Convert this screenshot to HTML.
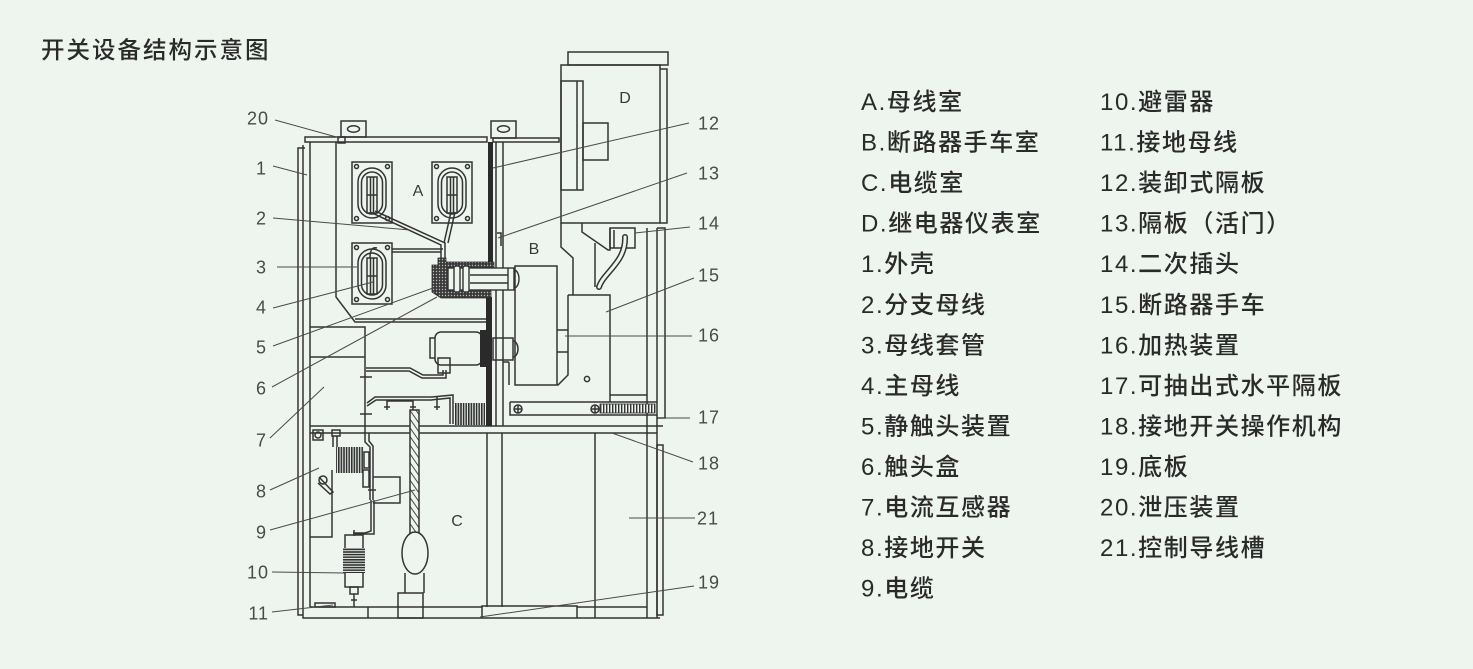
<!DOCTYPE html>
<html><head><meta charset="utf-8"><style>
html,body{margin:0;padding:0;background:#eef5ee;}
svg{display:block;}
.t{font-family:"Liberation Sans","Noto Sans CJK SC",sans-serif;fill:#2a2a2a;font-weight:500;}
.n{font-family:"Liberation Sans",sans-serif;fill:#4a4a4a;font-size:18px;letter-spacing:1px;}
.L{font-family:"Liberation Sans",sans-serif;fill:#3a3a3a;font-size:16px;}
</style></head><body>
<svg width="1473" height="669" viewBox="0 0 1473 669" xmlns="http://www.w3.org/2000/svg">
<defs>
<pattern id="dots" width="3" height="3" patternUnits="userSpaceOnUse">
<rect width="3" height="3" fill="#3a3a3a"/><circle cx="1.5" cy="1.5" r="0.7" fill="#bbb"/>
</pattern>
<pattern id="hatch" width="5" height="5" patternUnits="userSpaceOnUse" patternTransform="rotate(-35)">
<rect width="5" height="5" fill="#eef5ee"/><line x1="0" y1="0" x2="0" y2="5" stroke="#333" stroke-width="1.8"/>
</pattern>
<pattern id="vfin" width="2.6" height="4" patternUnits="userSpaceOnUse">
<rect width="2.6" height="4" fill="#eef5ee"/><rect width="1.6" height="4" fill="#2f2f2f"/>
</pattern>
<pattern id="hfin" width="4" height="2.6" patternUnits="userSpaceOnUse">
<rect width="4" height="2.6" fill="#eef5ee"/><rect width="4" height="1.6" fill="#2f2f2f"/>
</pattern>
<pattern id="spring" width="3" height="10" patternUnits="userSpaceOnUse">
<rect width="3" height="10" fill="#eef5ee"/><rect width="1.4" height="10" fill="#333"/>
</pattern>
</defs>
<rect width="1473" height="669" fill="#eef5ee"/>

<!-- Title -->
<text class="t" x="41" y="58" font-size="23.5" letter-spacing="2">开关设备结构示意图</text>

<!-- Legend left column -->
<g class="t" font-size="24" letter-spacing="1.6">
<text x="861" y="110">A.母线室</text>
<text x="861" y="150.5">B.断路器手车室</text>
<text x="861" y="191">C.电缆室</text>
<text x="861" y="231.7">D.继电器仪表室</text>
<text x="861" y="272.2">1.外壳</text>
<text x="861" y="312.8">2.分支母线</text>
<text x="861" y="353.3">3.母线套管</text>
<text x="861" y="393.9">4.主母线</text>
<text x="861" y="434.4">5.静触头装置</text>
<text x="861" y="475">6.触头盒</text>
<text x="861" y="515.5">7.电流互感器</text>
<text x="861" y="556">8.接地开关</text>
<text x="861" y="596.6">9.电缆</text>
</g>
<g class="t" font-size="24" letter-spacing="1.6">
<text x="1100" y="110">10.避雷器</text>
<text x="1100" y="150.5">11.接地母线</text>
<text x="1100" y="191">12.装卸式隔板</text>
<text x="1100" y="231.7">13.隔板（活门）</text>
<text x="1100" y="272.2">14.二次插头</text>
<text x="1100" y="312.8">15.断路器手车</text>
<text x="1100" y="353.3">16.加热装置</text>
<text x="1100" y="393.9">17.可抽出式水平隔板</text>
<text x="1100" y="434.4">18.接地开关操作机构</text>
<text x="1100" y="475">19.底板</text>
<text x="1100" y="515.5">20.泄压装置</text>
<text x="1100" y="556">21.控制导线槽</text>
</g>

<!-- Drawing -->
<g fill="none" stroke="#333" stroke-width="1.5">
<!-- outer shell -->
<path d="M305,148 H298 V615 H303"/>
<path d="M303,145 V618 H660"/>
<line x1="310" y1="142" x2="310" y2="607"/>
<rect x="305" y="137" width="182" height="5"/>
<path d="M336,142 V297 L355,322 H487"/>
<line x1="355" y1="319" x2="487" y2="319"/>
<!-- tabs -->
<rect x="341" y="121" width="25" height="16"/>
<ellipse cx="353.5" cy="129" rx="6" ry="3.2"/>
<rect x="491" y="121" width="25" height="17"/>
<ellipse cx="503.5" cy="129" rx="6" ry="3.2"/>
<rect x="338" y="137" width="7" height="6"/>
<rect x="493" y="138" width="66" height="4"/>
<!-- partitions -->
<line x1="496" y1="142" x2="496" y2="426"/>
<line x1="503" y1="142" x2="503" y2="426"/>
<path d="M497,233 H501 V246"/>
<!-- D compartment -->
<rect x="561" y="65" width="99" height="158"/>
<rect x="568" y="52" width="100" height="13"/>
<path d="M660,69 H667 V223 H660"/>
<rect x="561" y="81" width="22" height="109"/>
<line x1="577" y1="81" x2="577" y2="190"/>
<rect x="583" y="123" width="25" height="37"/>
<!-- below D -->
<path d="M561,223 V247 L573,258 V295"/>
<path d="M582,223 V232 L608,250 H610 V228"/>
<line x1="595" y1="243" x2="595" y2="287"/>
<rect x="610" y="228" width="25" height="20"/>
<line x1="614" y1="230" x2="614" y2="248"/>
<!-- right columns -->
<line x1="647" y1="228" x2="647" y2="618"/>
<line x1="657" y1="228" x2="657" y2="618"/>
<path d="M657,228 H665 V418 H657"/>
<line x1="610" y1="395" x2="647" y2="395"/>
<!-- breaker truck -->
<path d="M568,295 H610 V402"/>
<path d="M568,295 V375 L558,385 H515 V266 H557 V385"/>
<line x1="557" y1="330" x2="568" y2="330"/>
<line x1="557" y1="352" x2="568" y2="352"/>
<circle cx="587" cy="379" r="2.6"/>
<path d="M510,402 H657 M510,402 V415 H657"/>
<circle cx="518" cy="409" r="4"/>
<line x1="514" y1="409" x2="522" y2="409"/><line x1="518" y1="405" x2="518" y2="413"/>
<circle cx="595" cy="409" r="4"/>
<line x1="591" y1="409" x2="599" y2="409"/><line x1="595" y1="405" x2="595" y2="413"/>
<rect x="600" y="404" width="55" height="9" fill="url(#spring)" stroke-width="0.8"/>
<!-- floor -->
<line x1="310" y1="426" x2="663" y2="426"/>
<line x1="310" y1="433" x2="657" y2="433"/>
<!-- bottom compartments -->
<line x1="487" y1="433" x2="487" y2="607"/>
<line x1="502" y1="433" x2="502" y2="607"/>
<line x1="595" y1="433" x2="595" y2="618"/>
<rect x="657" y="445" width="6" height="170"/>
<line x1="310" y1="607" x2="482" y2="607"/>
<line x1="577" y1="607" x2="647" y2="607"/>
<line x1="368" y1="607" x2="368" y2="618"/>
<path d="M482,618 V606 H577 V618"/>
<rect x="398" y="593" width="25" height="25"/>
<rect x="315" y="603" width="20" height="4"/>
<!-- CT box 7 -->
<path d="M310,327 H365 V433"/>
<line x1="310" y1="357" x2="365" y2="357"/>
<line x1="360" y1="377" x2="372" y2="377"/>
<line x1="360" y1="414" x2="372" y2="414"/>
<!-- lower breaker pole -->
<path d="M435,338 H430 V358 H435"/>
<rect x="435" y="332" width="47" height="33" rx="6"/>
<rect x="438" y="358" width="12" height="15"/>
<rect x="493" y="338" width="20" height="22"/>
<path d="M513,341 A5,8 0 0 1 513,357"/>
<line x1="503" y1="362" x2="509" y2="362"/><line x1="509" y1="362" x2="509" y2="385"/>
<!-- busbars lower -->
<path d="M366,368 H410 L423,375 H443 V370"/>
<path d="M366,371 H409 L422,378 H446 V370"/>
<path d="M367,403 L375,397 H432 L453,395 V424"/>
<path d="M367,406 L376,400 H431 L450,398 V424"/>
<path d="M387,410 V401 H413 V410"/>
<line x1="384" y1="407" x2="390" y2="407"/><line x1="410" y1="407" x2="416" y2="407"/>
<line x1="437" y1="397" x2="437" y2="410"/><line x1="434" y1="407" x2="440" y2="407"/>
<rect x="455" y="403" width="30" height="22" fill="url(#vfin)" stroke="none"/>
<!-- earth switch -->
<rect x="313" y="430" width="10" height="10"/>
<circle cx="318" cy="435" r="3"/>
<rect x="332" y="430" width="8" height="6"/>
<path d="M333,436 V447 M337,436 V447"/>
<rect x="336" y="447" width="28" height="26" fill="url(#vfin)" stroke="none"/>
<rect x="364" y="452" width="5" height="16"/>
<path d="M365,433 V442 L370,447 V500"/>
<path d="M369,433 V441 L373,446 V500"/>
<path d="M373,477 H400 V503 H373"/>
<path d="M363,470 H369 V487 H363 Z"/>
<path d="M310,537 H332 V470"/>
<circle cx="323" cy="480" r="4"/>
<path d="M319,477 L333,492 L330,494 L318,483"/>
<path d="M371,500 V531 L365,533 H353"/>
<path d="M374,500 V534 H355"/>
<line x1="368" y1="490" x2="376" y2="490"/>
<!-- arrester -->
<rect x="345" y="535" width="18" height="52"/>
<rect x="343" y="548" width="22" height="25" fill="url(#hfin)" stroke="none"/>
<line x1="354" y1="530" x2="354" y2="536"/>
<rect x="350" y="587" width="8" height="7"/>
<line x1="354" y1="594" x2="354" y2="607"/>
<line x1="351" y1="600" x2="357" y2="600"/>
<!-- cable -->
<rect x="410" y="410" width="9" height="124" fill="url(#hatch)"/>
<ellipse cx="415" cy="553" rx="13" ry="21" fill="#eef5ee"/>
<path d="M405,573 V593 M424,573 V593"/>
<!-- A compartment bushings -->
<g id="bush">
<rect x="352" y="162" width="40" height="61"/>
<circle cx="356.5" cy="166.5" r="2"/><circle cx="387.5" cy="166.5" r="2"/>
<circle cx="356.5" cy="218.5" r="2"/><circle cx="387.5" cy="218.5" r="2"/>
<rect x="358" y="168" width="28" height="50" rx="14"/>
<rect x="361.5" y="172" width="21" height="42" rx="10.5"/>
<rect x="367" y="177" width="10" height="36"/>
<line x1="370.5" y1="177" x2="370.5" y2="213"/>
<line x1="373.5" y1="177" x2="373.5" y2="213"/>
<line x1="367" y1="195" x2="377" y2="195"/>
</g>
<use href="#bush" x="80" y="0"/>
<use href="#bush" x="0" y="81"/>
<!-- branch busbars -->
<path d="M370,212 L441,245 V258"/>
<path d="M375,211 L445,243 V258"/>
<path d="M451,212 L444,243"/>
<path d="M455,212 L448,243"/>
<line x1="392" y1="249" x2="443" y2="249"/>
<line x1="392" y1="252" x2="441" y2="252"/>
<path d="M370,258 Q370,246 377,248"/>
</g>

<!-- partitions (black) -->
<rect x="488" y="142" width="5" height="120" fill="#2a2a2a"/>
<rect x="486" y="297" width="6" height="129" fill="#2a2a2a"/>
<rect x="480" y="330" width="7" height="37" fill="#2a2a2a"/>

<!-- contact box 6 -->
<path d="M438,258 H446 V262 H491 L494,262 V268 H448 V288 H491 V298 H441 L432,292 V265 H438 Z" fill="url(#dots)" stroke="#2a2a2a" stroke-width="0.8"/>
<g fill="#eef5ee" stroke="#333" stroke-width="1.4">
<rect x="448" y="268" width="66" height="22"/>
<rect x="454" y="266" width="6" height="26" rx="2"/>
<rect x="463" y="266" width="6" height="26" rx="2"/>
<line x1="470" y1="275" x2="508" y2="275"/>
<line x1="470" y1="283" x2="508" y2="283"/>
<line x1="508" y1="268" x2="508" y2="290"/>
</g>
<path d="M514,270 A5,9 0 0 1 514,288" fill="none" stroke="#333" stroke-width="1.4"/>

<!-- secondary plug tube -->
<path d="M625,237 C626,262 604,272 599,287" fill="none" stroke="#333" stroke-width="6" stroke-linecap="round"/>
<path d="M625,237 C626,262 604,272 599,287" fill="none" stroke="#eef5ee" stroke-width="3" stroke-linecap="round"/>

<!-- leader lines -->
<g stroke="#4a4a4a" stroke-width="1" fill="none">
<line x1="275" y1="120" x2="340" y2="138"/>
<line x1="273" y1="166" x2="307" y2="175"/>
<line x1="273" y1="218" x2="410" y2="230"/>
<line x1="277" y1="267" x2="357" y2="267"/>
<line x1="273" y1="308" x2="373" y2="282"/>
<line x1="273" y1="346" x2="433" y2="288"/>
<line x1="272" y1="387" x2="437" y2="297"/>
<line x1="270" y1="438" x2="324" y2="387"/>
<line x1="270" y1="490" x2="319" y2="468"/>
<line x1="270" y1="530" x2="415" y2="490"/>
<line x1="272" y1="572" x2="345" y2="573"/>
<line x1="272" y1="612" x2="333" y2="605"/>
<line x1="689" y1="123" x2="493" y2="168"/>
<line x1="687" y1="173" x2="498" y2="238"/>
<line x1="690" y1="227" x2="635" y2="233"/>
<line x1="694" y1="278" x2="606" y2="312"/>
<line x1="692" y1="336" x2="565" y2="336"/>
<line x1="690" y1="418" x2="658" y2="418"/>
<line x1="693" y1="462" x2="612" y2="433"/>
<line x1="695" y1="518" x2="629" y2="518"/>
<line x1="694" y1="586" x2="480" y2="617"/>
</g>

<!-- number labels -->
<g class="n" text-anchor="end">
<text x="269" y="124.5">20</text>
<text x="267" y="174.5">1</text>
<text x="267" y="224.5">2</text>
<text x="267" y="273.5">3</text>
<text x="267" y="313.5">4</text>
<text x="267" y="353.5">5</text>
<text x="267" y="394.5">6</text>
<text x="267" y="446.5">7</text>
<text x="267" y="497.5">8</text>
<text x="267" y="538.5">9</text>
<text x="269" y="578.5">10</text>
<text x="269" y="619.5">11</text>
</g>
<g class="n">
<text x="698" y="129.5">12</text>
<text x="698" y="179.5">13</text>
<text x="698" y="229.5">14</text>
<text x="698" y="281.5">15</text>
<text x="698" y="341.5">16</text>
<text x="698" y="423.5">17</text>
<text x="698" y="469.5">18</text>
<text x="697" y="524.5">21</text>
<text x="698" y="588.5">19</text>
</g>
<g class="L" text-anchor="middle">
<text x="418" y="196">A</text>
<text x="534" y="254">B</text>
<text x="457" y="526">C</text>
<text x="625" y="103">D</text>
</g>
</svg>
</body></html>
